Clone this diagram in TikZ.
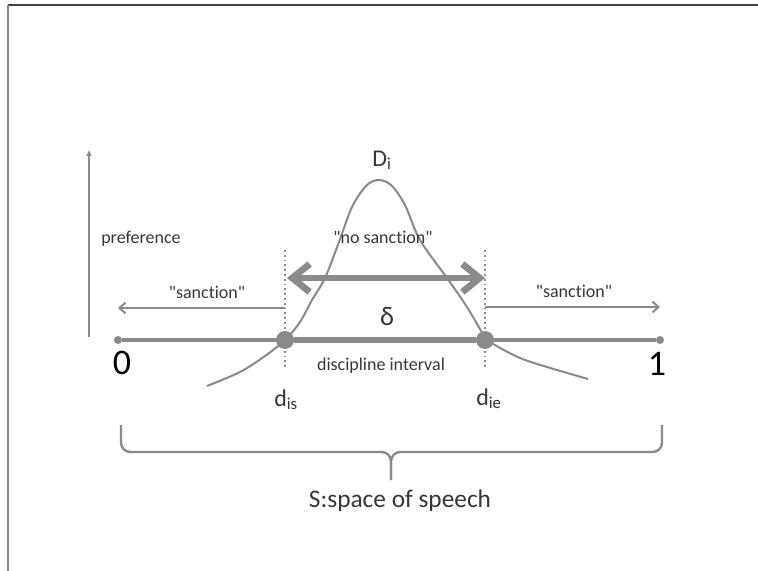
\documentclass[tikz,border=0pt]{standalone}
\usepackage{fontspec}
\setmainfont{Carlito}[Ligatures=NoCommon]
\usepackage{tikz}
\usetikzlibrary{arrows.meta,positioning,calc}
\definecolor{linegray}{RGB}{138,138,138}
\definecolor{textgray}{RGB}{55,55,55}
\tikzset{
  txt/.style={text=textgray, inner sep=0pt, font=\fontsize{13.5}{16}\selectfont},
  mainline/.style={draw=linegray, line width=3pt},
  discline/.style={draw=linegray, line width=4.6pt},
  thinarrow/.style={draw=linegray, line width=1.5pt, -{Straight Barb[length=4.5pt,width=8pt]}},
  guide/.style={draw=linegray, line width=1.1pt, dash pattern=on 1.4pt off 2.2pt},
  enddot/.style={circle, fill=linegray, inner sep=0pt, minimum size=6pt},
  bigdot/.style={circle, fill=linegray, inner sep=0pt, minimum size=13.5pt},
  bracepen/.style={draw=linegray, line width=1.8pt, rounded corners=7pt}
}
\begin{document}
\begin{tikzpicture}[x=0.75pt,y=-0.75pt]
  \useasboundingbox (0,0) rectangle (758,571);
  \draw[black!75, line width=1.2pt] (8,5) -- (758,5);
  \draw[linegray, line width=1.6pt] (8,5) -- (8,571);

  \coordinate (prefbot) at (89,337);
  \coordinate (preftop) at (89,150);
  \draw[linegray, line width=1.5pt, -{Triangle[length=4.5pt,width=3.5pt]}] (prefbot) -- (preftop);
  \node[txt, anchor=base west] (preflbl) at (101,243) {preference};

  \node[enddot] (zero) at (118,340) {};
  \node[enddot] (one) at (660,340) {};
  \node[bigdot] (dis) at (285,340) {};
  \node[bigdot] (die) at (485,340) {};
  \draw[mainline] (zero) -- (one);
  \draw[discline] (dis) -- (die);

  \coordinate (distop) at (285,250);
  \coordinate (disbot) at (285,368);
  \coordinate (dietop) at (485,250);
  \coordinate (diebot) at (485,368);
  \draw[guide] (distop) -- (disbot);
  \draw[guide] (dietop) -- (diebot);

  \draw[linegray, line width=1.5pt]
    plot[smooth, tension=0.55] coordinates {(207,386) (240,372) (265,356) (285,340) (300,322) (312,300)
      (325,278) (339,242) (352,207) (366,186) (378,180) (391,185) (405,205) (420,240) (447,278)
      (467,307) (485,337) (495,345) (520,358) (547,367) (588,379)};

  \coordinate (nsl) at (287,278);
  \coordinate (nsr) at (485,278);
  \draw[linegray, line width=5pt, {Straight Barb[length=13pt,width=21pt]}-{Straight Barb[length=13pt,width=21pt]}] (nsl) -- (nsr);
  \node[txt, anchor=base] (nosanc) at (383,243) {\textquotedbl no sanction\textquotedbl};

  \coordinate (sl0) at (285,308);
  \coordinate (sl1) at (118,308);
  \coordinate (sr0) at (485,307);
  \coordinate (sr1) at (660,307);
  \draw[thinarrow] (sl0) -- (sl1);
  \draw[thinarrow] (sr0) -- (sr1);
  \node[txt, anchor=base] (sancl) at (207,298) {\textquotedbl sanction\textquotedbl};
  \node[txt, anchor=base] (sancr) at (574,297) {\textquotedbl sanction\textquotedbl};

  \node[txt, anchor=base west, font=\fontsize{18}{20}\selectfont] (dlbl) at (372,166) {D\textsubscript{i}};
  \node[txt, anchor=base, font=\fontsize{20}{22}\selectfont] (delta) at (387,325) {δ};
  \node[txt, anchor=base] (interval) at (381,370) {discipline interval};
  \node[anchor=base, inner sep=0pt, font=\fontsize{27}{30}\selectfont] (zerolbl) at (122,374) {0};
  \node[anchor=base, inner sep=0pt, font=\fontsize{27}{30}\selectfont] (onelbl) at (657,375) {1};
  \node[txt, anchor=base west, font=\fontsize{18}{20}\selectfont] (dislbl) at (274,406) {d\textsubscript{is}};
  \node[txt, anchor=base west, font=\fontsize{18}{20}\selectfont] (dielbl) at (476,405) {d\textsubscript{ie}};

  \coordinate (brL) at (121,425);
  \coordinate (brR) at (662,425);
  \coordinate (brM) at (391,452);
  \coordinate (brTip) at (391,480);
  \draw[bracepen] (brL) |- (brM) -- (brTip);
  \draw[bracepen] (brR) |- (brM) -- (brTip);
  \node[txt, anchor=base, font=\fontsize{19}{22}\selectfont] (space) at (400,507) {S:space of speech};
\end{tikzpicture}
\end{document}
